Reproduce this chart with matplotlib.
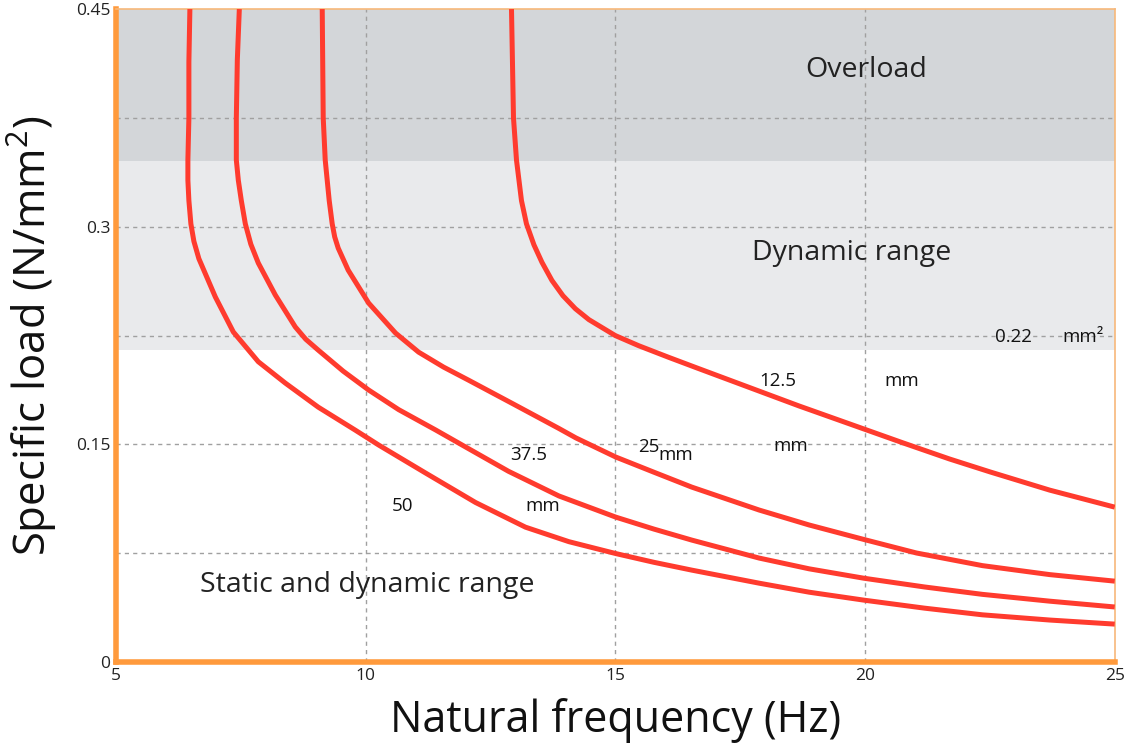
import matplotlib
matplotlib.use("Agg")
import matplotlib.pyplot as plt

FONT = "Open Sans"
plt.rcParams["font.family"] = [FONT, "DejaVu Sans"]
plt.rcParams["mathtext.fontset"] = "custom"
plt.rcParams["mathtext.rm"] = FONT
plt.rcParams["mathtext.it"] = FONT

RED = "#ff3b2e"
ORANGE = "#ff9a3c"
GRID = "#a0a0a0"

# curves: natural frequency (Hz) -> specific load (N/mm2)
freq_50 = [6.48, 6.46, 6.46, 6.44, 6.44, 6.46, 6.50, 6.56, 6.66, 6.99, 7.35, 7.85, 8.39,
           9.05, 9.79, 10.26, 11.20, 12.20, 13.20, 14.07, 15.01, 15.77, 16.53, 17.88,
           18.88, 19.98, 21.19, 22.35, 23.70, 25.0]
load_50 = [0.450, 0.4135, 0.375, 0.346, 0.332, 0.318, 0.302, 0.290, 0.278, 0.2516, 0.2275,
           0.2070, 0.1923, 0.1757, 0.1599, 0.1496, 0.1303, 0.1100, 0.0930, 0.0830, 0.0748,
           0.0688, 0.0634, 0.0544, 0.0482, 0.0427, 0.0372, 0.0326, 0.0290, 0.0262]

freq_37 = [7.47, 7.43, 7.41, 7.41, 7.45, 7.51, 7.59, 7.70, 7.85, 8.19, 8.59, 8.80, 9.05,
           9.55, 10.06, 10.66, 11.40, 11.86, 12.86, 13.87, 15.01, 15.77, 16.53, 17.88,
           18.88, 19.98, 21.19, 22.35, 23.70, 25.0]
load_37 = [0.450, 0.415, 0.375, 0.346, 0.332, 0.318, 0.302, 0.288, 0.2750, 0.2530, 0.2310,
           0.2225, 0.2150, 0.2005, 0.1875, 0.1740, 0.1600, 0.1510, 0.1315, 0.1145, 0.0999,
           0.0917, 0.0841, 0.0717, 0.0643, 0.0578, 0.0518, 0.0467, 0.0420, 0.0380]

freq_25 = [9.13, 9.15, 9.19, 9.27, 9.33, 9.38, 9.45, 9.65, 10.06, 10.60, 11.06, 11.56,
           12.06, 12.96, 13.87, 14.21, 15.01, 15.77, 16.53, 17.88, 18.88, 19.98, 21.03,
           22.35, 23.70, 25.0]
load_25 = [0.450, 0.375, 0.346, 0.318, 0.302, 0.293, 0.2853, 0.2701, 0.2474, 0.2267, 0.2136,
           0.2033, 0.1943, 0.1778, 0.1610, 0.1545, 0.1413, 0.1309, 0.1206, 0.1048, 0.0945,
           0.0845, 0.0752, 0.0665, 0.0603, 0.0558]

freq_12 = [12.92, 12.96, 13.02, 13.12, 13.22, 13.37, 13.53, 13.73, 13.95, 14.20, 14.47,
           15.00, 15.47, 16.07, 16.65, 17.68, 18.68, 20.03, 20.75, 21.69, 22.51, 23.70, 25.0]
load_12 = [0.450, 0.375, 0.346, 0.318, 0.302, 0.2875, 0.2755, 0.2630, 0.2525, 0.2435, 0.2360,
           0.2250, 0.2180, 0.2100, 0.2025, 0.1893, 0.1765, 0.1600, 0.1512, 0.1400, 0.1310,
           0.1185, 0.1068]

# ranges (N/mm2)
overload_from = 0.345
dynamic_from = 0.215

fig = plt.figure(figsize=(11.26, 7.55), dpi=100)
ax = fig.add_axes([0.103, 0.123, 0.887, 0.865])

ax.axhspan(overload_from, 0.45, color="#d3d6d9", lw=0, zorder=0)
ax.axhspan(dynamic_from, overload_from, color="#e9eaec", lw=0, zorder=0)

for y in [0.075, 0.15, 0.225, 0.3, 0.375]:
    ax.axhline(y, color=GRID, lw=1, ls=(0, (3, 3)), zorder=1)
for x in [10, 15, 20]:
    ax.axvline(x, color=GRID, lw=1, ls=(0, (3, 3)), zorder=1)

for f, l in [(freq_50, load_50), (freq_37, load_37), (freq_25, load_25), (freq_12, load_12)]:
    ax.plot(f, l, color=RED, lw=3.6, solid_joinstyle="round", solid_capstyle="butt", zorder=3)

ax.set_xlim(5, 25)
ax.set_ylim(0, 0.45)
ax.set_xticks([5, 10, 15, 20, 25])
ax.set_yticks([0, 0.15, 0.3, 0.45])
ax.set_yticklabels(["0", "0.15", "0.3", "0.45"])
ax.tick_params(length=0, labelsize=12.5, colors="#222222", pad=4)

for side in ["left", "bottom"]:
    ax.spines[side].set_color(ORANGE)
    ax.spines[side].set_linewidth(4)
for side in ["top", "right"]:
    ax.spines[side].set_color("#f7b87a")
    ax.spines[side].set_linewidth(1.2)

ax.set_xlabel("Natural frequency (Hz)", fontsize=31, labelpad=10, color="#111111")
ax.set_ylabel("Specific load (N/mm$^2$)", fontsize=31.5, labelpad=12, color="#111111")

big = dict(fontsize=20.5, ha="center", va="center", color="#222222")
ax.text(20.03, 0.408, "Overload", **big)
ax.text(19.73, 0.282, "Dynamic range", **big)
ax.text(10.03, 0.053, "Static and dynamic range", **big)

small = dict(fontsize=13.5, ha="center", va="center", color="#111111")
ax.text(22.98, 0.224, "0.22", **small)
ax.text(24.36, 0.224, "mm²", **small)
ax.text(18.25, 0.194, "12.5", **small)
ax.text(20.73, 0.194, "mm", **small)
ax.text(15.66, 0.148, "25", **small)
ax.text(16.2, 0.1427, "mm", **small)
ax.text(18.51, 0.149, "mm", **small)
ax.text(13.26, 0.1427, "37.5", **small)
ax.text(10.73, 0.1075, "50", **small)
ax.text(13.54, 0.1075, "mm", **small)

fig.savefig("out.png", dpi=100)
